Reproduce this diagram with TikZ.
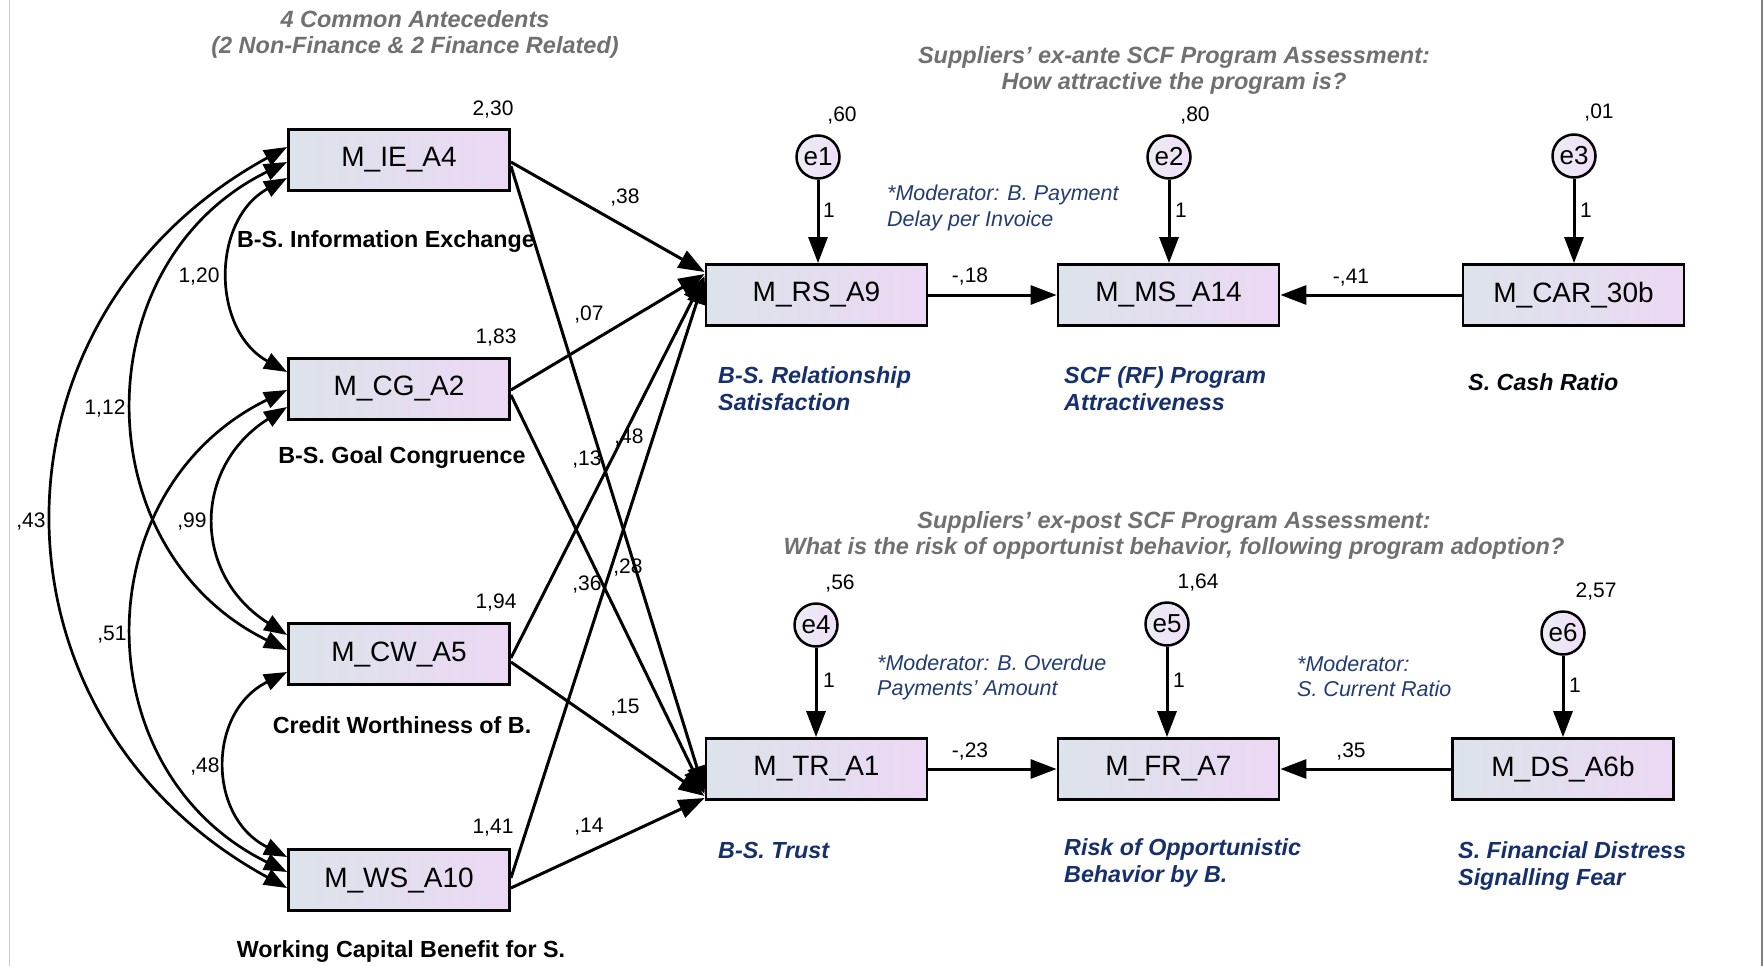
\documentclass[tikz,border=0pt]{standalone}
\usepackage{fontspec}
\setmainfont{Liberation Sans}
\usetikzlibrary{arrows.meta}

\definecolor{boxL}{RGB}{220,227,234}
\definecolor{boxR}{RGB}{236,216,244}
\definecolor{errL}{RGB}{236,236,244}
\definecolor{errR}{RGB}{240,222,248}
\definecolor{navy}{RGB}{22,48,110}
\definecolor{modblue}{RGB}{35,60,115}
\definecolor{titlegray}{RGB}{112,112,112}

\begin{document}
\begin{tikzpicture}[x=1pt,y=-1pt,
  var/.style={draw, line width=2.8pt, minimum width=221pt, minimum height=61pt,
    inner sep=0pt, left color=boxL, right color=boxR, font=\fontsize{28}{32}\selectfont},
  err/.style={circle, draw, line width=2.5pt, minimum size=43pt, inner sep=0pt,
    left color=errL, right color=errR, font=\fontsize{26}{30}\selectfont},
  num/.style={inner sep=0pt, font=\fontsize{21}{25}\selectfont},
  lbl/.style={inner sep=0pt, font=\fontsize{23.3}{28}\selectfont\bfseries},
  blue/.style={inner sep=0pt, anchor=west, align=left, text=navy,
    font=\fontsize{23.3}{27}\selectfont\bfseries\itshape},
  moder/.style={inner sep=0pt, anchor=west, align=left, text=modblue,
    font=\fontsize{21.5}{25.5}\selectfont\itshape},
  heading/.style={inner sep=0pt, align=center, text=titlegray,
    font=\fontsize{23.5}{26}\selectfont\bfseries\itshape},
  reg/.style={line width=3pt, -{Triangle[length=26pt,width=19pt]}},
  cov/.style={line width=2.7pt, {Triangle[length=23pt,width=17pt]}-{Triangle[length=23pt,width=17pt]}}
]
\path[use as bounding box, fill=white] (0,0) rectangle (1764,966);

% frame lines
\draw[gray!40, line width=1pt] (9,0) -- (9,966);
\draw[gray, line width=2.5pt] (1762,0) -- (1762,966);

% headings
\node[heading] (h1) at (415,34.5) {4 Common Antecedents\\(2 Non-Finance \& 2 Finance Related)};
\node[heading] (h2) at (1174,70.5) {Suppliers' ex-ante SCF Program Assessment:\\How attractive the program is?};
\node[heading] (h3) at (1174,535.5) {Suppliers' ex-post SCF Program Assessment:\\What is the risk of opportunist behavior, following program adoption?};

% exogenous observed variables
\node[var] (IE) at (399,160) {M\_IE\_A4};
\node[var] (CG) at (399,389) {M\_CG\_A2};
\node[var] (CW) at (399,654) {M\_CW\_A5};
\node[var] (WS) at (399,880) {M\_WS\_A10};

% endogenous variables
\node[var] (RS) at (816.5,295) {M\_RS\_A9};
\node[var] (MS) at (1168.5,295) {M\_MS\_A14};
\node[var] (CAR) at (1573.5,295) {M\_CAR\_30b};
\node[var] (TR) at (816.5,769) {M\_TR\_A1};
\node[var] (FR) at (1168.5,769) {M\_FR\_A7};
\node[var] (DS) at (1563,769) {M\_DS\_A6b};

% error terms
\node[err] (e1) at (818,157) {e1};
\node[err] (e2) at (1169,157) {e2};
\node[err] (e3) at (1574,156) {e3};
\node[err] (e4) at (816,625) {e4};
\node[err] (e5) at (1167,624) {e5};
\node[err] (e6) at (1563,633) {e6};

% variances
\node[num] (vIE) at (493,110) {2,30};
\node[num] (vCG) at (496,338) {1,83};
\node[num] (vCW) at (496,603) {1,94};
\node[num] (vWS) at (493,828) {1,41};
\node[num] (v1) at (842,116) {,60};
\node[num] (v2) at (1195,116) {,80};
\node[num] (v3) at (1599,113) {,01};
\node[num] (v4) at (840,584) {,56};
\node[num] (v5) at (1198,583) {1,64};
\node[num] (v6) at (1596,592) {2,57};

% construct names
\node[lbl] (nIE) at (386,242) {B-S. Information Exchange};
\node[lbl] (nCG) at (402,458) {B-S. Goal Congruence};
\node[lbl] (nCW) at (402,725) {Credit Worthiness of B.};
\node[lbl] (nWS) at (401,952) {Working Capital Benefit for S.};
\node[blue] (nRS) at (718,388.5) {B-S. Relationship\\Satisfaction};
\node[blue] (nMS) at (1064,388.5) {SCF (RF) Program\\Attractiveness};
\node[blue, text=black!85!navy] (nCAR) at (1468,382) {S. Cash Ratio};
\node[blue] (nTR) at (718,850) {B-S. Trust};
\node[blue] (nFR) at (1064,862.5) {Risk of Opportunistic\\Behavior by B.};
\node[blue] (nDS) at (1458,866) {S. Financial Distress\\Signalling Fear};

% moderators
\node[moder] (m1) at (887,208) {*Moderator: B. Payment\\Delay per Invoice};
\node[moder] (m2) at (877,677.5) {*Moderator: B. Overdue\\Payments' Amount};
\node[moder] (m3) at (1297,676.5) {*Moderator:\\S. Current Ratio};

% path coefficients
\node[num] (p1) at (625,198) {,38};
\node[num] (p2) at (589,315) {,07};
\node[num] (p3) at (587,460) {,13};
\node[num] (p4) at (629,438) {,48};
\node[num] (p5) at (587,585) {,36};
\node[num] (p6) at (628,568) {,28};
\node[num] (p7) at (625,708) {,15};
\node[num] (p8) at (589,827) {,14};
\node[num] (p9) at (970,277) {-,18};
\node[num] (p10) at (1351,278) {-,41};
\node[num] (p11) at (970,752) {-,23};
\node[num] (p12) at (1351,752) {,35};
\node[num] (w1) at (829,210) {1};
\node[num] (w2) at (1181,210) {1};
\node[num] (w3) at (1586,210) {1};
\node[num] (w4) at (829,680) {1};
\node[num] (w5) at (1179,680) {1};
\node[num] (w6) at (1575,685) {1};

% covariances
\node[num] (c1) at (199,277) {1,20};
\node[num] (c2) at (105,409) {1,12};
\node[num] (c3) at (31,522) {,43};
\node[num] (c4) at (192,522) {,99};
\node[num] (c5) at (112,635) {,51};
\node[num] (c6) at (205,767) {,48};

\draw[cov] ([yshift=-18pt]IE.west) .. controls +(-76,42) and +(-76,-42) .. ([yshift=17pt]CG.west);
\draw[cov] ([yshift=-18pt]CG.west) .. controls +(-95,60) and +(-95,-60) .. ([yshift=19pt]CW.west);
\draw[cov] ([yshift=-18pt]CW.west) .. controls +(-80,40) and +(-80,-40) .. ([yshift=23pt]WS.west);
\draw[cov] ([yshift=-2pt]IE.west) .. controls +(-204,100) and +(-204,-100) .. ([yshift=4pt]CW.west);
\draw[cov] ([yshift=-1pt]CG.west) .. controls +(-204,100) and +(-204,-100) .. ([yshift=8pt]WS.west);
\draw[cov] ([yshift=13pt]IE.west) .. controls +(-311,170) and +(-311,-170) .. ([yshift=-8pt]WS.west);

% regression paths
\draw[reg] ([yshift=-2pt]IE.east) -- ([yshift=23pt]RS.west);
\draw[reg] ([yshift=-6pt]IE.east) -- ([yshift=-23pt]TR.west);
\draw[reg] ([yshift=-1pt]CG.east) -- ([yshift=21pt]RS.west);
\draw[reg] ([yshift=-6pt]CG.east) -- ([yshift=-25pt]TR.west);
\draw[reg] ([yshift=-4pt]CW.east) -- ([yshift=19pt]RS.west);
\draw[reg] ([yshift=-8pt]CW.east) -- ([yshift=-27pt]TR.west);
\draw[reg] ([yshift=2pt]WS.east) -- ([yshift=17pt]RS.west);
\draw[reg] ([yshift=-8pt]WS.east) -- ([yshift=-29pt]TR.west);

\draw[reg] (RS.east) -- (MS.west);
\draw[reg] (CAR.west) -- (MS.east);
\draw[reg] (TR.east) -- (FR.west);
\draw[reg] (DS.west) -- (FR.east);

\draw[reg] (e1) -- (e1 |- RS.north);
\draw[reg] (e2) -- (e2 |- MS.north);
\draw[reg] (e3) -- (e3 |- CAR.north);
\draw[reg] (e4) -- (e4 |- TR.north);
\draw[reg] (e5) -- (e5 |- FR.north);
\draw[reg] (e6) -- (e6 |- DS.north);
\end{tikzpicture}
\end{document}
